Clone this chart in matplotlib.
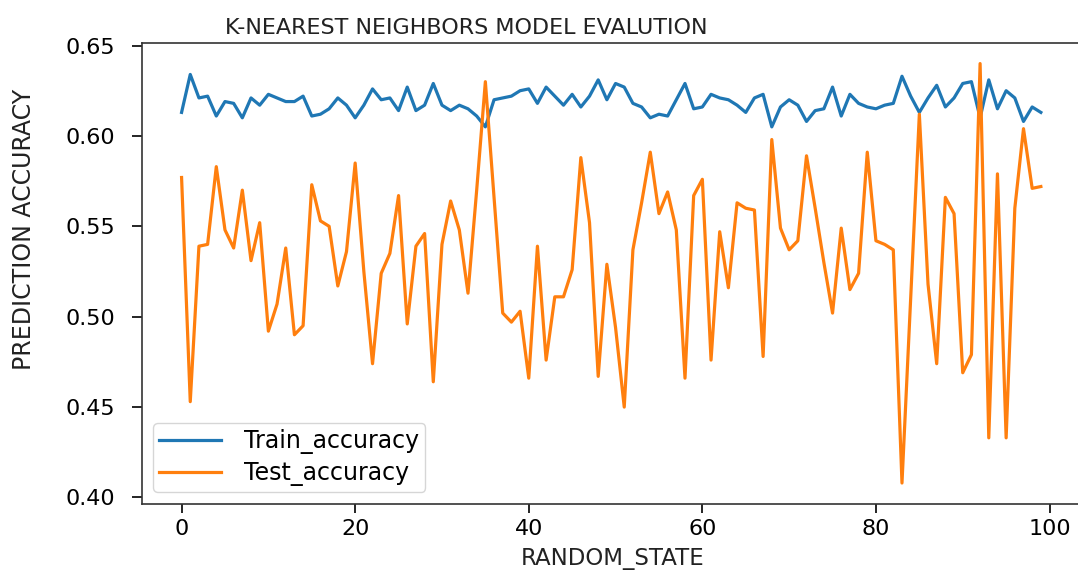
import numpy as np
import matplotlib
matplotlib.use("Agg")
import matplotlib.pyplot as plt

# random_state values 0..99
random_state = np.arange(100)

train_accuracy = [
    0.613, 0.634, 0.621, 0.622, 0.611, 0.619, 0.618, 0.610, 0.621, 0.617,
    0.623, 0.621, 0.619, 0.619, 0.622, 0.611, 0.612, 0.615, 0.621, 0.617,
    0.610, 0.617, 0.626, 0.620, 0.621, 0.614, 0.627, 0.614, 0.617, 0.629,
    0.617, 0.614, 0.617, 0.615, 0.611, 0.605, 0.620, 0.621, 0.622, 0.625,
    0.626, 0.618, 0.627, 0.622, 0.617, 0.623, 0.616, 0.622, 0.631, 0.620,
    0.629, 0.627, 0.618, 0.616, 0.610, 0.612, 0.611, 0.620, 0.629, 0.615,
    0.616, 0.623, 0.621, 0.620, 0.617, 0.613, 0.621, 0.623, 0.605, 0.616,
    0.620, 0.617, 0.608, 0.614, 0.615, 0.627, 0.611, 0.623, 0.618, 0.616,
    0.615, 0.617, 0.618, 0.633, 0.622, 0.613, 0.621, 0.628, 0.616, 0.621,
    0.629, 0.630, 0.610, 0.631, 0.615, 0.625, 0.621, 0.608, 0.616, 0.613,
]

test_accuracy = [
    0.577, 0.453, 0.539, 0.540, 0.583, 0.548, 0.538, 0.570, 0.531, 0.552,
    0.492, 0.507, 0.538, 0.490, 0.495, 0.573, 0.553, 0.550, 0.517, 0.536,
    0.585, 0.525, 0.474, 0.524, 0.535, 0.567, 0.496, 0.539, 0.546, 0.464,
    0.540, 0.564, 0.548, 0.513, 0.570, 0.630, 0.566, 0.502, 0.497, 0.503,
    0.466, 0.539, 0.476, 0.511, 0.511, 0.526, 0.588, 0.552, 0.467, 0.529,
    0.494, 0.450, 0.537, 0.563, 0.591, 0.557, 0.569, 0.548, 0.466, 0.567,
    0.576, 0.476, 0.547, 0.516, 0.563, 0.560, 0.559, 0.478, 0.598, 0.549,
    0.537, 0.542, 0.589, 0.560, 0.530, 0.502, 0.549, 0.515, 0.524, 0.591,
    0.542, 0.540, 0.537, 0.408, 0.510, 0.612, 0.518, 0.474, 0.566, 0.557,
    0.469, 0.479, 0.640, 0.433, 0.579, 0.433, 0.560, 0.604, 0.571, 0.572,
]

yticks = [0.40, 0.45, 0.50, 0.55, 0.60, 0.65]
xticks = [0, 20, 40, 60, 80, 100]

fig = plt.figure(figsize=(10.78, 5.76), dpi=100)
# axes runs a little past the right edge, as in the cropped original
ax = fig.add_axes([0.1314, 0.125, 0.874, 0.801])

ax.plot(random_state, train_accuracy, color="#1f77b4", linewidth=2.3,
        label="Train_accuracy")
ax.plot(random_state, test_accuracy, color="#ff7f0e", linewidth=2.3,
        label="Test_accuracy")

ax.set_xlim(-4.6, 103.95)
ax.set_xticks(xticks)
ax.set_yticks(yticks)
ax.set_yticklabels([f"{v:.2f}" for v in yticks])

ax.tick_params(axis="x", labelsize=16, length=6.5, width=1.2, pad=4)
ax.tick_params(axis="y", labelsize=16, length=7, width=1.2, pad=12)
for side in ax.spines.values():
    side.set_linewidth(1.2)
    side.set_color("#333333")

ax.set_title("K-NEAREST NEIGHBORS MODEL EVALUTION", fontsize=16, x=0.344,
             color="#222222")
ax.set_xlabel("RANDOM_STATE", fontsize=16.5, labelpad=6, color="#222222")
ax.set_ylabel("PREDICTION ACCURACY", fontsize=17, color="#222222")
ax.yaxis.set_label_coords(-0.112, 0.596)

ax.legend(loc="lower left", fontsize=17, handlelength=2.6,
          handletextpad=1.0, labelspacing=0.3, borderpad=0.25,
          borderaxespad=0.5)

plt.savefig("out.png", dpi=100)
